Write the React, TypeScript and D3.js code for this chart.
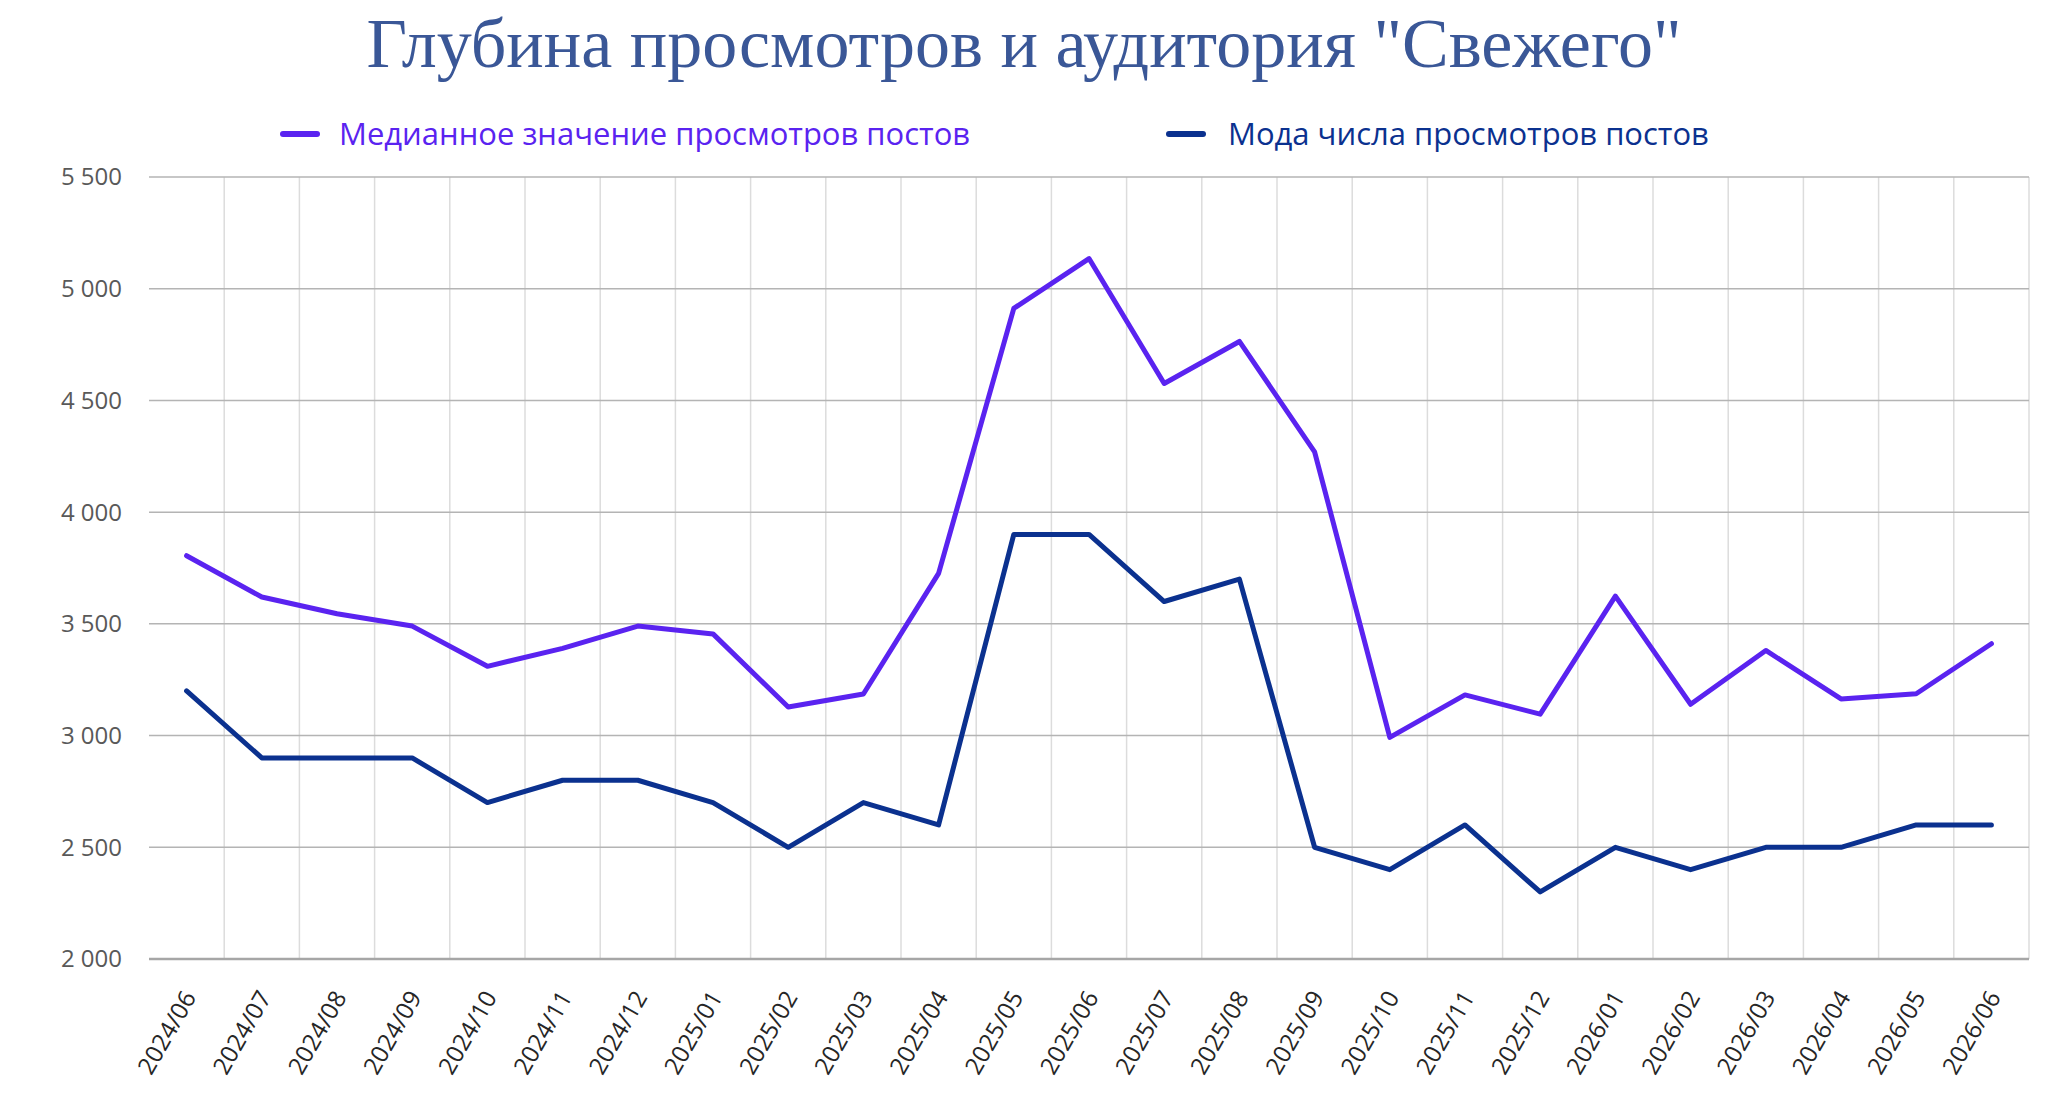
import * as d3 from "d3";

const months = [
  "2024/06", "2024/07", "2024/08", "2024/09", "2024/10", "2024/11", "2024/12",
  "2025/01", "2025/02", "2025/03", "2025/04", "2025/05", "2025/06", "2025/07",
  "2025/08", "2025/09", "2025/10", "2025/11", "2025/12", "2026/01", "2026/02",
  "2026/03", "2026/04", "2026/05", "2026/06",
];

// медиана просмотров
const medianViews = [
  3805, 3620, 3545, 3490, 3310, 3390, 3490, 3455, 3128, 3186, 3726, 4912, 5135,
  4576, 4764, 4270, 2992, 3182, 3096, 3624, 3140, 3381, 3164, 3187, 3411,
];

// мода просмотров
const modeViews = [
  3200, 2900, 2900, 2900, 2700, 2800, 2800, 2700, 2500, 2700, 2600, 3900, 3900,
  3600, 3700, 2500, 2400, 2600, 2300, 2500, 2400, 2500, 2500, 2600, 2600,
];

const yTicks = [2000, 2500, 3000, 3500, 4000, 4500, 5000, 5500];

const seriesNames = [
  "Медианное значение просмотров постов",
  "Мода числа просмотров постов",
];

const W = 2048;
const H = 1094;
const left = 149;
const right = 2029;
const top = 177;
const bottom = 959;

const C_MEDIAN = "#5a23f0";
const C_MODE = "#0b318f";
const SANS = "'Open Sans', 'Noto Sans', sans-serif";

const fmt = (v: number) => d3.format(",")(v).replace(",", " ");

export default function App() {
  const x = d3.scaleBand<string>().domain(months).range([left, right]).padding(0);
  const y = d3.scaleLinear().domain([2000, 5500]).range([bottom, top]);
  const cx = (m: string) => (x(m) ?? 0) + x.bandwidth() / 2;

  const line = d3
    .line<number>()
    .x((_, i) => cx(months[i]))
    .y((d) => y(d));

  const series = [
    { name: seriesNames[0], color: C_MEDIAN, values: medianViews, lx: 283, tx: 339 },
    { name: seriesNames[1], color: C_MODE, values: modeViews, lx: 1169, tx: 1228 },
  ];

  const boundaries = months.map((m) => x(m) ?? 0).concat([right]);

  return (
    <svg
      width={W}
      height={H}
      style={{ position: "absolute", left: 0, top: 0, background: "#fff" }}
    >
      <text
        x={1024}
        y={67}
        textAnchor="middle"
        fontFamily="'Liberation Serif', 'DejaVu Serif', serif"
        fontSize={70}
        fill="#3a5797"
      >
        Глубина просмотров и аудитория "Свежего"
      </text>

      {/* legend */}
      {series.map((s) => (
        <g key={s.name}>
          <line
            x1={s.lx}
            x2={s.lx + 34}
            y1={134}
            y2={134}
            stroke={s.color}
            strokeWidth={6}
            strokeLinecap="round"
          />
          <text x={s.tx} y={134} dy="0.35em" fontFamily={SANS} fontSize={31} fill={s.color}>
            {s.name}
          </text>
        </g>
      ))}

      {/* vertical grid */}
      {boundaries.slice(1).map((bx, i) => (
        <line key={"v" + i} x1={bx} x2={bx} y1={top} y2={bottom} stroke="#dcdcdc" strokeWidth={1.5} />
      ))}

      {/* horizontal grid */}
      {yTicks.map((t) => (
        <line
          key={"h" + t}
          x1={left}
          x2={right}
          y1={y(t)}
          y2={y(t)}
          stroke={t === 2000 ? "#a6a6a6" : "#b4b4b4"}
          strokeWidth={t === 2000 ? 2.5 : 1.5}
        />
      ))}

      {yTicks.map((t) => (
        <text
          key={"yl" + t}
          x={122}
          y={y(t)}
          dy="0.35em"
          textAnchor="end"
          fontFamily={SANS}
          fontSize={24}
          fill="#595959"
        >
          {fmt(t)}
        </text>
      ))}

      {months.map((m) => (
        <text
          key={"xl" + m}
          transform={`translate(${cx(m) + 3},${bottom + 34}) rotate(-60)`}
          dy="0.35em"
          textAnchor="end"
          fontFamily={SANS}
          fontSize={24}
          fill="#262626"
        >
          {m}
        </text>
      ))}

      {series.map((s) => (
        <path
          key={"p" + s.name}
          d={line(s.values) ?? ""}
          fill="none"
          stroke={s.color}
          strokeWidth={5}
          strokeLinejoin="round"
          strokeLinecap="round"
        />
      ))}
    </svg>
  );
}
